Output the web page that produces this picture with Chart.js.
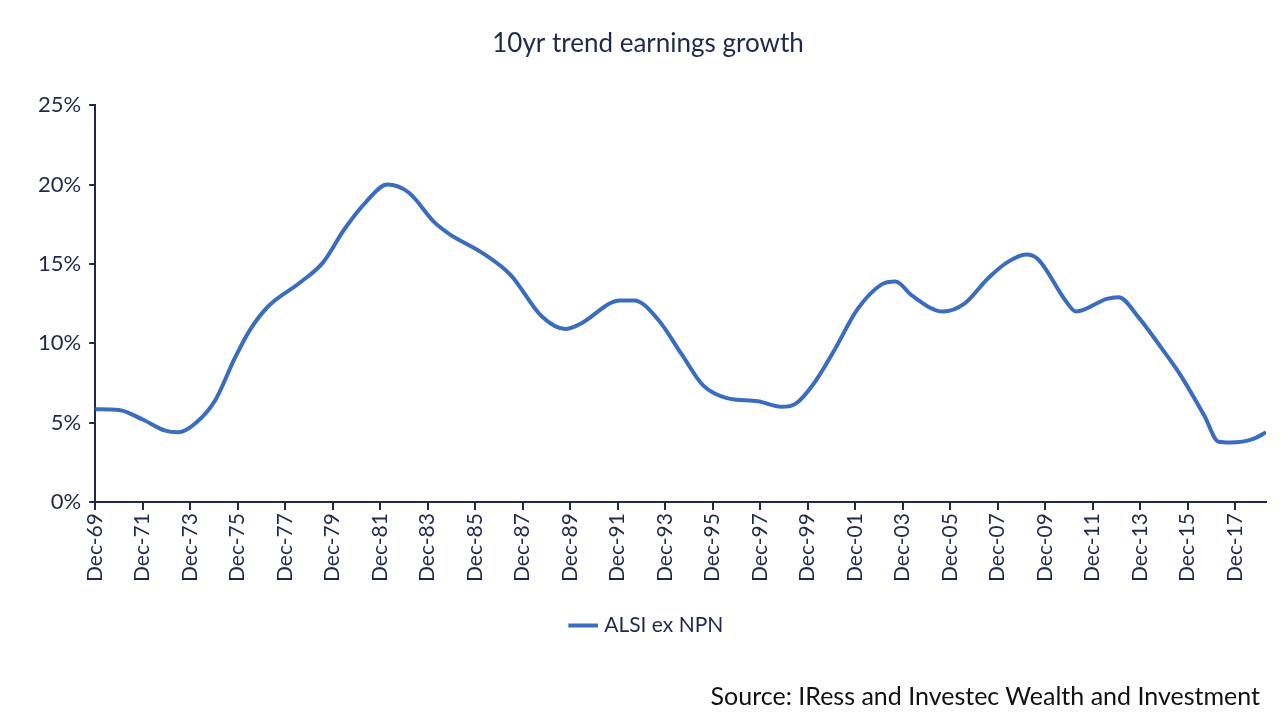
<!DOCTYPE html>
<html>
<head>
<meta charset="utf-8">
<script src="https://cdn.jsdelivr.net/npm/chart.js@4"></script>
<style>
  body { margin: 0; background: #fff; }
  #wrap { position: relative; width: 1288px; height: 726px; }
  #source { position: absolute; right: 28px; top: 680px; font: 25px Lato, sans-serif; color: #111; }
</style>
</head>
<body>
<div id="wrap">
  <canvas id="c" width="1288" height="726"></canvas>
  <div id="source">Source: IRess and Investec Wealth and Investment</div>
</div>
<script>
const NAVY = '#1F2A4A';
const LINE_BLUE = '#3A6CC0';

// years after Dec-69
const yearsSince69 = [0, 1.0, 2.0, 2.95, 3.5, 4.25, 5.05, 5.86, 6.5, 7.3, 8.6, 9.6, 10.5, 11.4, 12.3,
  13.2, 14.3, 14.9, 16.4, 17.5, 18.8, 19.8, 20.4, 22.1, 22.7, 23.7, 24.7, 25.6, 26.6, 27.9,
  28.9, 29.5, 30.3, 31.1, 32.1, 33.1, 33.7, 34.4, 35.7, 36.6, 37.6, 38.4, 39.2, 39.7, 40.9,
  41.3, 42.6, 43.1, 43.9, 44.9, 45.7, 46.7, 47.3, 47.8, 48.8, 49.3];
const alsiExNpn = [5.85, 5.8, 5.2, 4.5, 4.4, 5.0, 6.4, 9.0, 10.8, 12.35, 13.8, 15.1, 17.2, 18.9, 20.0,
  19.5, 17.6, 16.9, 15.6, 14.3, 11.7, 10.9, 11.2, 12.7, 12.7, 11.5, 9.3, 7.35, 6.55, 6.35,
  6.0, 6.2, 7.55, 9.5, 12.15, 13.7, 13.9, 13.0, 12.0, 12.5, 14.1, 15.1, 15.6, 15.3, 12.6,
  12.0, 12.8, 12.9, 11.7, 9.7, 8.0, 5.45, 3.8, 3.75, 4.0, 4.4];
const yTicks = [0, 5, 10, 15, 20, 25];

new Chart(document.getElementById('c'), {
  type: 'line',
  data: {
    datasets: [{
      label: 'ALSI ex NPN',
      data: yearsSince69.map((x, i) => ({ x, y: alsiExNpn[i] })),
      borderColor: LINE_BLUE,
      backgroundColor: LINE_BLUE,
      borderWidth: 4,
      pointRadius: 0,
      tension: 0.4,
      cubicInterpolationMode: 'monotone',
    }],
  },
  options: {
    responsive: false,
    animation: false,
    layout: { padding: { left: 30, right: 22, top: 10, bottom: 80 } },
    plugins: {
      title: {
        display: true,
        text: '10yr trend earnings growth',
        color: NAVY,
        font: { family: 'Lato', size: 26, weight: 'normal' },
        padding: { top: 18, bottom: 46 },
      },
      legend: {
        position: 'bottom',
        labels: {
          color: NAVY,
          font: { family: 'Lato', size: 21 },
          usePointStyle: true,
          pointStyle: 'line',
          boxWidth: 60,
          padding: 30,
        },
      },
      tooltip: { enabled: false },
    },
    scales: {
      x: {
        type: 'linear',
        min: 0,
        max: 49.3,
        afterBuildTicks: (axis) => {
          const t = [];
          for (let v = 0; v <= 48; v += 2) t.push({ value: v });
          axis.ticks = t;
        },
        ticks: {
          color: NAVY,
          font: { family: 'Lato', size: 21 },
          minRotation: 90,
          maxRotation: 90,
          autoSkip: false,
          callback: (v) => 'Dec-' + String((69 + v) % 100).padStart(2, '0'),
        },
        grid: { drawOnChartArea: false, drawTicks: true, tickLength: 8, color: NAVY, lineWidth: 2 },
        border: { color: NAVY, width: 2 },
      },
      y: {
        min: 0,
        max: 25,
        afterBuildTicks: (axis) => { axis.ticks = yTicks.map((v) => ({ value: v })); },
        ticks: {
          color: NAVY,
          font: { family: 'Lato', size: 22 },
          padding: 8,
          callback: (v) => v + '%',
        },
        grid: { drawOnChartArea: false, drawTicks: true, tickLength: 6, color: NAVY, lineWidth: 2 },
        border: { color: NAVY, width: 2 },
      },
    },
  },
});
</script>
</body>
</html>
